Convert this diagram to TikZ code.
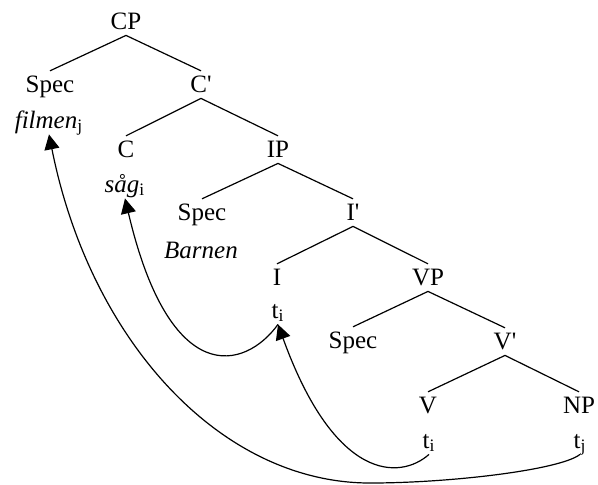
\documentclass[tikz,border=0pt]{standalone}
\usepackage{fontspec}
\setmainfont{Liberation Serif}
\usetikzlibrary{arrows.meta}

\tikzset{
  cat/.style={anchor=base, inner sep=2pt, text height=8.4pt, text depth=1pt},
  branch/.style={line width=0.6pt},
  move/.style={line width=0.6pt, -{Triangle[length=7.5pt, width=7.5pt]}},
}
\newcommand{\tr}[1]{t\textsubscript{#1}}
\newcommand{\barlevel}{\textquotesingle}

\begin{document}
\begin{tikzpicture}[x=0.5pt, y=-0.5pt, font=\fontsize{12.5}{15}\selectfont]
		\useasboundingbox (0, 0) rectangle (598, 484);
		% labels, one row of the tree at a time
		\path (126, 29) node(cp) [cat] {CP};
		\path (50, 92) node(specc) [cat] {Spec};
		\path (49, 128) node(filmen) [cat] {\textit{filmen}\textsubscript{j}};
		\path (201, 92) node(cbar) [cat] {C\barlevel};
		\path (126, 157) node(c) [cat] {C};
		\path (125, 192) node(sag) [cat] {\textit{såg}\textsubscript{i}};
		\path (278, 157) node(ip) [cat] {IP};
		\path (202, 220) node(speci) [cat] {Spec};
		\path (201, 258) node(barnen) [cat] {\textit{Barnen}};
		\path (353, 220) node(ibar) [cat] {I\barlevel};
		\path (277, 285) node(i) [cat] {I};
		\path (278, 318) node(ti) [cat] {\tr{i}};
		\path (428, 285) node(vp) [cat] {VP};
		\path (353, 348) node(specv) [cat] {Spec};
		\path (505, 349) node(vbar) [cat] {V\barlevel};
		\path (428, 413) node(v) [cat] {V};
		\path (429, 448) node(tv) [cat] {\tr{i}};
		\path (579, 413) node(np) [cat] {NP};
		\path (580, 448) node(tnp) [cat] {\tr{j}};
		% branches
		\draw [branch] (cp.south) -- (specc.north);
		\draw [branch] (cp.south) -- (cbar.north);
		\draw [branch] (cbar.south) -- (c.north);
		\draw [branch] (cbar.south) -- (ip.north);
		\draw [branch] (ip.south) -- (speci.north);
		\draw [branch] (ip.south) -- (ibar.north);
		\draw [branch] (ibar.south) -- (i.north);
		\draw [branch] (ibar.south) -- (vp.north);
		\draw [branch] (vp.south) -- (specv.north);
		\draw [branch] (vp.south) -- (vbar.north);
		\draw [branch] (vbar.south) -- (v.north);
		\draw [branch] (vbar.south) -- (np.north);
		% movement arrows
		\draw [move] (ti.south) .. controls (245, 370) and (170, 390) .. (sag.south);
		\draw [move] (tv.south) .. controls (400, 480) and (335, 482) .. (ti.south);
		\draw [move] (tnp.south) .. controls (560, 470) and (450, 483) .. (370, 483)
			.. controls (220, 483) and (90, 340) .. (filmen.south);
	\end{tikzpicture}
\end{document}
